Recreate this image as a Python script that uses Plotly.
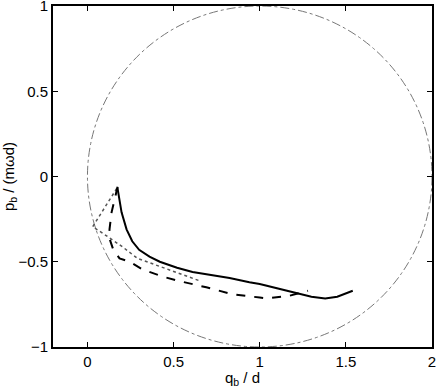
import plotly.graph_objects as go

# solid curve
solid_x = [0.174, 0.185, 0.198, 0.227, 0.26, 0.30, 0.36, 0.42, 0.52, 0.61, 0.70, 0.825, 0.94, 1.0, 1.1, 1.23, 1.30, 1.38, 1.45, 1.54]
solid_y = [-0.065, -0.13, -0.21, -0.31, -0.38, -0.43, -0.47, -0.50, -0.535, -0.56, -0.575, -0.595, -0.62, -0.63, -0.655, -0.69, -0.705, -0.715, -0.705, -0.67]

# dashed curve
dash_x = [0.175, 0.14, 0.128, 0.13, 0.15, 0.186, 0.244, 0.32, 0.436, 0.52, 0.69, 0.84, 1.0, 1.04, 1.17, 1.23, 1.28]
dash_y = [-0.06, -0.21, -0.31, -0.37, -0.43, -0.48, -0.50, -0.545, -0.587, -0.61, -0.65, -0.69, -0.71, -0.715, -0.70, -0.685, -0.67]

# dotted curve
dot_x = [0.17, 0.10, 0.03, 0.07, 0.13, 0.20, 0.29, 0.436, 0.55, 0.66]
dot_y = [-0.07, -0.18, -0.295, -0.32, -0.36, -0.41, -0.48, -0.534, -0.575, -0.615]

fig = go.Figure()
fig.add_shape(type="circle", xref="x", yref="y", x0=0, y0=-1, x1=2, y1=1,
              line=dict(color="#777", width=1, dash="dashdot"), layer="below")
fig.add_trace(go.Scatter(x=dot_x, y=dot_y, mode="lines",
                         line=dict(color="#555", width=1.5, dash="dot")))
fig.add_trace(go.Scatter(x=dash_x, y=dash_y, mode="lines",
                         line=dict(color="black", width=2, dash="dash")))
fig.add_trace(go.Scatter(x=solid_x, y=solid_y, mode="lines",
                         line=dict(color="black", width=2)))

axis_common = dict(showgrid=False, zeroline=False, showline=True, linecolor="black", linewidth=2,
                   mirror="ticks", ticks="inside", ticklen=5, tickcolor="black", automargin=False,
                   ticklabeloverflow="allow", tickfont=dict(size=15, color="black"))
fig.update_xaxes(range=[-0.2, 2], tickvals=[0, 0.5, 1, 1.5, 2], ticktext=["0", "0.5", "1", "1.5", "2"],
                 title=dict(text="q<sub>b</sub> / d", font=dict(size=15, color="black"), standoff=0),
                 **axis_common)
fig.update_yaxes(range=[-1, 1], tickvals=[-1, -0.5, 0, 0.5, 1], ticktext=["\u22121", "\u22120.5", "0", "0.5", "1"],
                 title=dict(text="p<sub>b</sub> / (m\u03c9d)", font=dict(size=15, color="black"), standoff=9),
                 **axis_common)
fig.update_layout(width=436, height=388, margin=dict(l=53, r=4, t=6, b=41, autoexpand=False),
                  paper_bgcolor="white", plot_bgcolor="white", showlegend=False,
                  font=dict(family="Liberation Sans, Arial, sans-serif", color="black"))
fig.write_html("out.html", config={"displayModeBar": False})

# drop the browser's default body margin so the figure sits at the page corner
with open("out.html", encoding="utf-8") as f:
    html = f.read()
html = html.replace("<body>", '<body style="margin:0">', 1)
with open("out.html", "w", encoding="utf-8") as f:
    f.write(html)
